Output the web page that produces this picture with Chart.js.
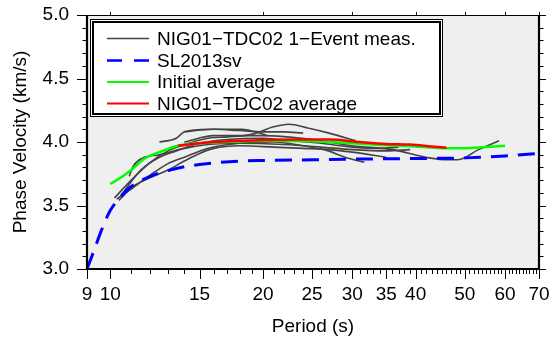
<!DOCTYPE html>
<html>
<head>
<meta charset="utf-8">
<script src="https://cdn.jsdelivr.net/npm/chart.js@4.4.0/dist/chart.umd.min.js"></script>
<style>
  html, body { margin: 0; padding: 0; background: #fff; }
  canvas { display: block; }
</style>
</head>
<body>
<canvas id="c" width="550" height="339"></canvas>
<script>
// valeurs (période s, vitesse km/s)
const xTicks = [9, 10, 15, 20, 25, 30, 35, 40, 50, 60, 70];
const xTopTicks = [10, 20, 30, 40, 50, 60, 70];

const event1 = [[10.2,3.56],[11,3.70],[12,3.84],[13,3.93],[14,3.98],[15.6,4.03],[17,4.04],[19,4.06],[21,4.12],[22.5,4.14],[24.5,4.11],[27,4.07],[30.5,4.01]];
const event2 = [[12.5,4.0],[13.5,4.03],[14,4.08],[15.6,4.10],[18.2,4.10],[19.3,4.08],[20.4,4.05]];
const event3 = [[10.3,3.55],[11,3.63],[12,3.74],[13,3.83],[14,3.88],[15.6,3.95],[18,3.99],[21,4.0],[24,3.97],[26.9,3.93],[29,3.88],[31.7,3.84]];
const event4 = [[10.4,3.54],[11.1,3.65],[12,3.72],[13,3.78],[14,3.85],[15,3.91],[16,3.95],[18,3.97],[21,3.96],[24,3.95],[27,3.94],[30,3.92],[35,3.88]];
const event5 = [[10.9,3.73],[11.1,3.81],[11.6,3.875],[12.5,3.90],[14,3.95],[15.6,3.98],[18,3.99],[22,3.98],[26,3.96],[30,3.94],[35,3.93],[39,3.94]];
const event6 = [[14,4.0],[16,4.05],[20,4.05],[25,4.02],[30,3.97],[36,3.94],[42.5,3.875],[46.3,3.86],[48.5,3.86],[53.2,3.94],[58.4,4.01]];
const event7 = [[10.5,3.58],[11.5,3.78],[12.5,3.88],[13.5,3.93],[15,3.99],[17,4.02],[20,4.03],[23,4.01],[26,3.99],[30,3.96],[34,3.95],[37,3.96]];
const event8 = [[14,4.08],[16,4.10],[18,4.09],[20,4.08],[22,4.08],[24,4.07]];
const events = [event1, event2, event3, event4, event5, event6, event7, event8];

const sl2013 = [[9,3.0],[9.3,3.15],[9.6,3.3],[10,3.46],[10.5,3.57],[11,3.65],[12,3.73],[13,3.775],[14,3.805],[16,3.835],[18,3.85],[20,3.855],[25,3.86],[30,3.865],[40,3.87],[50,3.875],[60,3.89],[70,3.91]];
const initialAvg = [[10,3.67],[10.5,3.72],[11,3.78],[11.7,3.87],[12.5,3.92],[13.6,3.97],[15,3.99],[17,4.0],[20,4.01],[25,4.005],[30,3.99],[35,3.975],[40,3.965],[46,3.95],[50,3.95],[55,3.96],[60,3.97]];
const stationAvg = [[13.6,3.97],[15,3.99],[16,4.0],[18,4.01],[20,4.015],[23,4.02],[27,4.02],[31,4.0],[35,3.985],[39,3.98],[43,3.965],[46,3.955]];

const legendLabels = ['NIG01\u2212TDC02 1\u2212Event meas.', 'SL2013sv', 'Initial average', 'NIG01\u2212TDC02 average'];

const FONT = "'Liberation Sans', Helvetica, Arial, sans-serif";
const pts = a => a.map(([x, y]) => ({ x, y }));

const datasets = events.map((e, i) => ({
  label: i === 0 ? legendLabels[0] : '_ev' + i,
  data: pts(e), borderColor: '#444', borderWidth: 1.6, order: 4
}));
datasets.push({ label: legendLabels[1], data: pts(sl2013), borderColor: '#0000ff', borderWidth: 3, borderDash: [17, 10], order: 3 });
datasets.push({ label: legendLabels[2], data: pts(initialAvg), borderColor: '#00ff00', borderWidth: 2.5, order: 2 });
datasets.push({ label: legendLabels[3], data: pts(stationAvg), borderColor: '#ff0000', borderWidth: 2.5, order: 1 });

const frame = {
  id: 'frame',
  beforeDatasetsDraw(chart) {
    const { ctx, chartArea: a } = chart;
    ctx.save();
    ctx.fillStyle = '#efefef';
    ctx.fillRect(a.left, a.top, a.right - a.left, a.bottom - a.top);
    ctx.restore();
  },
  afterDraw(chart) {
    const { ctx, chartArea: a, scales: { x, y } } = chart;
    ctx.save();
    ctx.strokeStyle = '#000';
    ctx.lineWidth = 1;
    ctx.beginPath();
    // ticks bas
    for (let p = 9; p <= 70; p++) {
      const px = Math.round(x.getPixelForValue(p)) + 0.5;
      const len = xTicks.includes(p) ? 10 : 5;
      ctx.moveTo(px, a.bottom); ctx.lineTo(px, a.bottom + len);
    }
    // ticks haut
    for (const p of xTopTicks) {
      const px = Math.round(x.getPixelForValue(p)) + 0.5;
      ctx.moveTo(px, a.top); ctx.lineTo(px, a.top - 3);
    }
    // ticks gauche / droite
    for (let k = 0; k <= 20; k++) {
      const v = 3 + k * 0.1;
      const py = Math.round(y.getPixelForValue(v)) + 0.5;
      const major = k % 5 === 0;
      ctx.moveTo(a.left, py); ctx.lineTo(a.left - (major ? 10 : 4.5), py);
      ctx.moveTo(a.right, py); ctx.lineTo(a.right + (major ? 7 : 4.5), py);
    }
    ctx.stroke();
    // cadre
    ctx.lineWidth = 1.2;
    ctx.beginPath(); ctx.moveTo(a.left, a.top + 0.5); ctx.lineTo(a.right, a.top + 0.5); ctx.stroke();
    ctx.lineWidth = 2.2;
    ctx.beginPath();
    ctx.moveTo(a.left, a.top); ctx.lineTo(a.left, a.bottom); ctx.lineTo(a.right, a.bottom); ctx.lineTo(a.right, a.top);
    ctx.stroke();

    // légende
    const L = 90, T = 19, R = 443, B = 117;
    ctx.fillStyle = '#fff';
    ctx.fillRect(L, T, R - L, B - T);
    ctx.lineWidth = 1;
    ctx.strokeRect(L + 0.5, T + 0.5, R - L - 1, B - T - 1);
    ctx.lineWidth = 2;
    ctx.strokeRect(L + 3, T + 3, R - L - 6, B - T - 6);
    const rows = [38.5, 60.5, 82, 103.5];
    const sty = [datasets[0], datasets[events.length], datasets[events.length + 1], datasets[events.length + 2]];
    ctx.font = '19px ' + FONT;
    ctx.textBaseline = 'middle';
    ctx.textAlign = 'left';
    sty.forEach((d, i) => {
      ctx.strokeStyle = d.borderColor;
      ctx.lineWidth = i === 1 ? 2.5 : (i === 0 ? 1.6 : 2);
      ctx.setLineDash(i === 1 ? [15, 12] : []);
      ctx.beginPath(); ctx.moveTo(107, rows[i]); ctx.lineTo(149, rows[i]); ctx.stroke();
      ctx.setLineDash([]);
      ctx.fillStyle = '#000';
      ctx.fillText(legendLabels[i], 157, rows[i] + 1);
    });
    ctx.restore();
  }
};

new Chart(document.getElementById('c'), {
  type: 'line',
  data: { datasets },
  options: {
    responsive: false,
    animation: false,
    layout: { padding: { top: 15, right: 11, left: 0, bottom: 0 } },
    elements: { point: { radius: 0 }, line: { tension: 0.4, cubicInterpolationMode: 'monotone' } },
    plugins: { legend: { display: false }, tooltip: { enabled: false } },
    scales: {
      x: {
        type: 'logarithmic', min: 9, max: 70,
        afterBuildTicks: s => { s.ticks = xTicks.map(v => ({ value: v })); },
        afterFit: s => { s.height = 70; s.paddingLeft = 0; s.paddingRight = 0; },
        grid: { display: false, drawTicks: false },
        border: { display: false },
        ticks: { color: '#000', font: { family: FONT, size: 19 }, padding: 14, maxRotation: 0, autoSkip: false, callback: v => String(v) },
        title: { display: true, text: 'Period (s)', color: '#000', font: { family: FONT, size: 19 }, padding: { top: 0, bottom: 1 } }
      },
      y: {
        min: 3, max: 5,
        afterFit: s => { s.width = 87; s.paddingTop = 0; s.paddingBottom = 0; },
        grid: { display: false, drawTicks: false },
        border: { display: false },
        ticks: { color: '#000', font: { family: FONT, size: 19 }, padding: 18, stepSize: 0.5, callback: v => v.toFixed(1) },
        title: { display: true, text: 'Phase Velocity (km/s)', color: '#000', font: { family: FONT, size: 19 }, padding: { top: 9, bottom: 0 } }
      }
    }
  },
  plugins: [frame]
});
</script>
</body>
</html>
